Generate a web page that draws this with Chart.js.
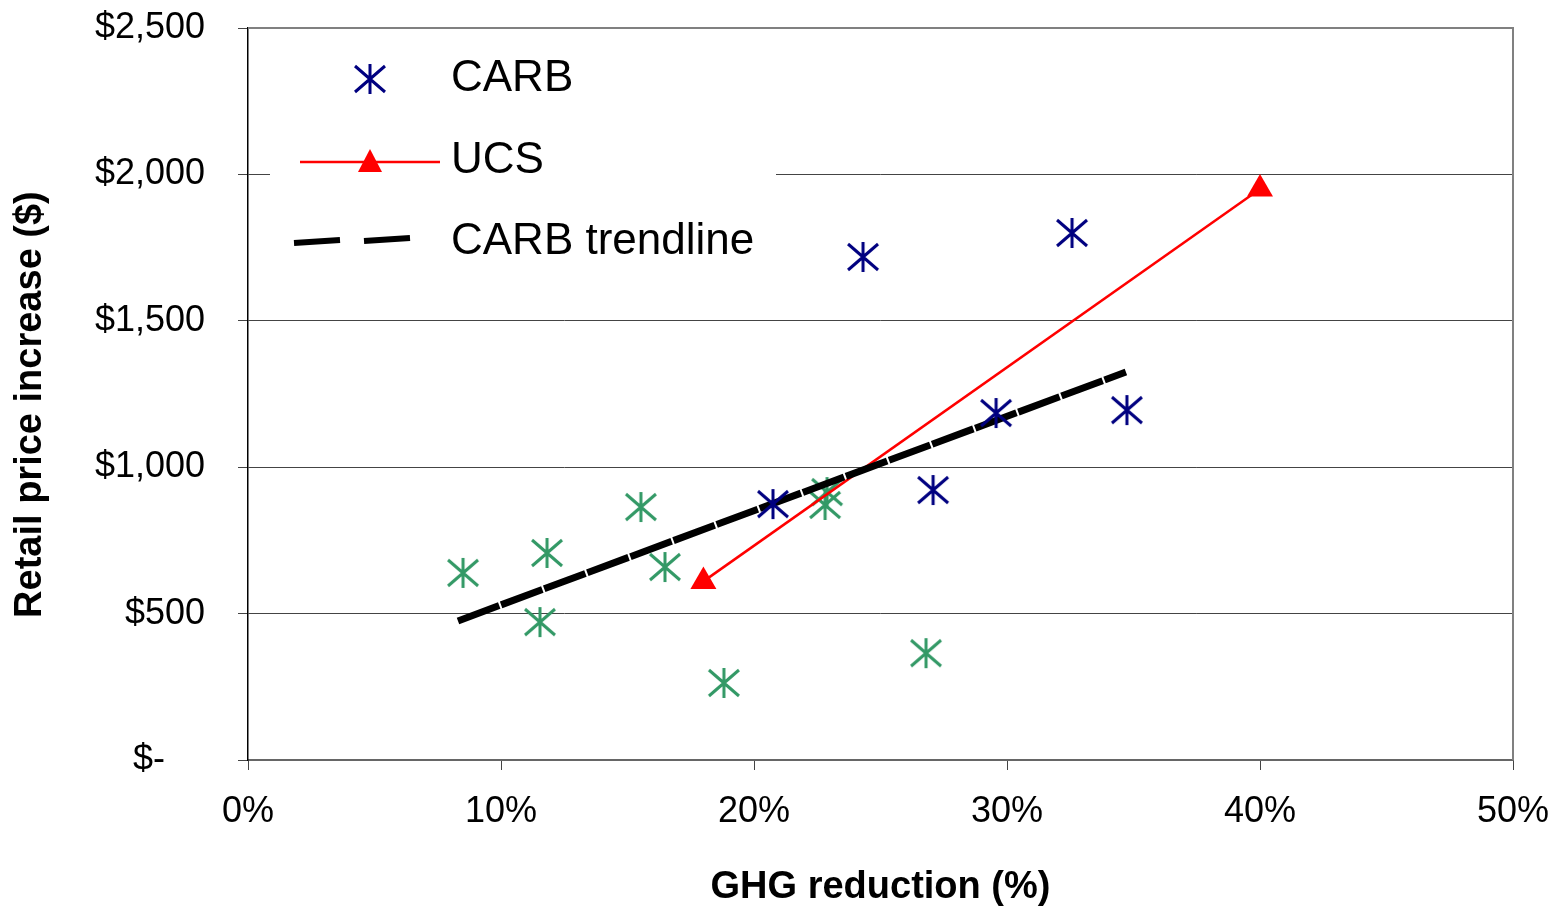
<!DOCTYPE html>
<html>
<head>
<meta charset="utf-8">
<script src="https://cdn.jsdelivr.net/npm/chart.js@4/dist/chart.umd.min.js"></script>
<style>
html,body{margin:0;padding:0;background:#fff;}
#wrap{width:1560px;height:910px;}
</style>
</head>
<body>
<div id="wrap"><canvas id="c" width="1560" height="910"></canvas></div>
<script>
// ---- data ----
const carbX = [20.75, 24.31, 27.08, 29.57, 32.57, 34.74];
const carbY = [874, 1718, 922, 1185, 1800, 1195];
const greenX = [8.50, 11.54, 11.82, 15.53, 16.48, 18.81, 22.89, 22.81, 26.80];
const greenY = [639, 471, 707, 864, 659, 263, 915, 871, 365];
const ucsX = [18.0, 40.0];
const ucsY = [610, 1950];
const trendX = [8.3, 34.7];
const trendY = [475, 1325];
const xTicks = [0, 10, 20, 30, 40, 50];
const yTicks = [0, 500, 1000, 1500, 2000, 2500];
const legendLabels = ['CARB', 'UCS', 'CARB trendline'];

const NAVY = '#000080', GREEN = '#339966', RED = '#ff0000';
const FONT = '"Liberation Sans", Arial, sans-serif';

function pts(xs, ys){ return xs.map((x,i)=>({x:x, y:ys[i]})); }

function makeStar(color){
  const c = document.createElement('canvas');
  c.width = 34; c.height = 34;
  const g = c.getContext('2d');
  g.strokeStyle = color; g.lineWidth = 3; g.lineCap = 'butt';
  g.beginPath();
  g.moveTo(17, 2); g.lineTo(17, 32);
  g.moveTo(2, 4); g.lineTo(32, 30);
  g.moveTo(32, 4); g.lineTo(2, 30);
  g.stroke();
  return c;
}
const navyStar = makeStar(NAVY);
const greenStar = makeStar(GREEN);

const framePlugin = {
  id: 'frame',
  beforeDatasetsDraw(chart){
    const {ctx, chartArea:a} = chart;
    ctx.save();
    ctx.strokeStyle = '#808080'; ctx.lineWidth = 2;
    ctx.beginPath();
    ctx.moveTo(a.left, a.top); ctx.lineTo(a.right, a.top); ctx.lineTo(a.right, a.bottom);
    ctx.stroke();
    ctx.restore();
  }
};

const legendPlugin = {
  id: 'customLegend',
  afterDatasetsDraw(chart){
    const ctx = chart.ctx;
    const a = chart.chartArea;
    ctx.save();
    ctx.fillStyle = '#fff';
    ctx.fillRect(270, a.top + 3, 506, 232);
    // CARB
    ctx.drawImage(navyStar, 370 - 17, 79 - 17);
    // UCS
    ctx.strokeStyle = RED; ctx.lineWidth = 2.5;
    ctx.beginPath(); ctx.moveTo(300, 162); ctx.lineTo(440, 162); ctx.stroke();
    ctx.fillStyle = RED;
    ctx.beginPath(); ctx.moveTo(370, 149); ctx.lineTo(382, 172); ctx.lineTo(358, 172); ctx.closePath(); ctx.fill();
    // trendline
    ctx.strokeStyle = '#000'; ctx.lineWidth = 6;
    ctx.beginPath(); ctx.moveTo(294, 243); ctx.lineTo(340, 240); ctx.stroke();
    ctx.beginPath(); ctx.moveTo(364, 241); ctx.lineTo(410, 238); ctx.stroke();
    // text
    ctx.fillStyle = '#000';
    ctx.font = '44px ' + FONT;
    ctx.textBaseline = 'alphabetic';
    ctx.textAlign = 'left';
    ctx.fillText(legendLabels[0], 451, 91);
    ctx.fillText(legendLabels[1], 451, 173);
    ctx.fillText(legendLabels[2], 451, 254);
    ctx.restore();
  }
};

new Chart(document.getElementById('c'), {
  type: 'scatter',
  data: {
    datasets: [
      { label: legendLabels[0], data: pts(carbX, carbY), pointStyle: navyStar, order: 0 },
      { label: legendLabels[2], data: pts(trendX, trendY), showLine: true, borderColor: '#000', borderWidth: 7,
        borderDash: [44, 2], pointRadius: 0, order: 1 },
      { label: legendLabels[1], data: pts(ucsX, ucsY), showLine: true, borderColor: RED, borderWidth: 2.5,
        pointStyle: 'triangle', pointRadius: 15, backgroundColor: RED, pointBorderColor: RED, pointBorderWidth: 0, order: 2 },
      { label: 'CARB (other)', data: pts(greenX, greenY), pointStyle: greenStar, order: 3 }
    ]
  },
  options: {
    responsive: false,
    animation: false,
    devicePixelRatio: 1,
    layout: { padding: { top: 28, right: 47, left: 0, bottom: 0 } },
    plugins: { legend: { display: false }, tooltip: { enabled: false } },
    scales: {
      x: {
        type: 'linear', min: 0, max: 50,
        afterBuildTicks(s){ s.ticks = xTicks.map(v=>({value:v})); },
        afterFit(s){ s.height = 150; s.paddingLeft = 0; s.paddingRight = 0; },
        border: { color: '#666', width: 2 },
        grid: { drawOnChartArea: false, drawTicks: true, tickLength: 10, color: '#444' },
        ticks: { color: '#000', font: { family: FONT, size: 36 }, padding: 20, maxRotation: 0,
          callback: v => v + '%' },
        title: { display: true, text: 'GHG reduction (%)', color: '#000',
          font: { family: FONT, size: 38, weight: 'bold', lineHeight: 1.2 }, padding: { top: 0, bottom: 0 } }
      },
      y: {
        type: 'linear', min: 0, max: 2500,
        afterBuildTicks(s){ s.ticks = yTicks.map(v=>({value:v})); },
        afterFit(s){ s.width = 248; s.paddingTop = 0; s.paddingBottom = 0; },
        border: { color: '#000', width: 1.5 },
        grid: { drawTicks: true, tickLength: 10, color: '#444', lineWidth: 1 },
        ticks: { color: '#000', font: { family: FONT, size: 36 }, padding: 33,
          callback: v => v === 0 ? '$-    ' : '$' + v.toLocaleString('en-US') },
        title: { display: true, text: 'Retail price increase ($)  ', color: '#000',
          font: { family: FONT, size: 38, weight: 'bold', lineHeight: 1.2 }, padding: { top: 8, bottom: 0 } }
      }
    }
  },
  plugins: [framePlugin, legendPlugin]
});
</script>
</body>
</html>
